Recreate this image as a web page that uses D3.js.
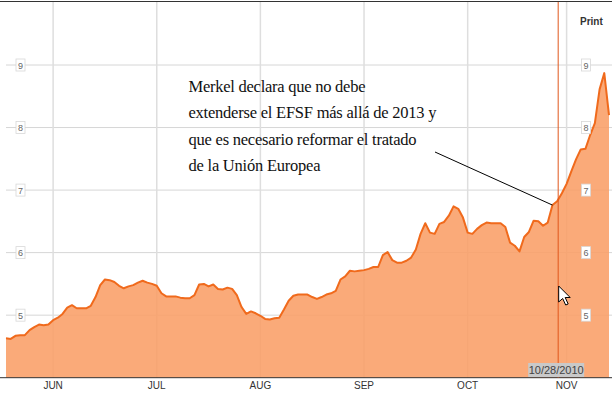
<!DOCTYPE html>
<html>
<head>
<meta charset="utf-8">
<script src="https://cdn.jsdelivr.net/npm/d3@7"></script>
<style>
  body { margin: 0; background: #fff; }
  svg { display: block; }
</style>
</head>
<body>
<div id="chart"></div>
<script>
/* Data: daily (trading days) yield, starting 18 May 2010 */
const startDate = "2010-05-18"
const yieldValues = [
  4.63, 4.62, 4.67, 4.68, 4.68, 4.76, 4.81, 4.85, 4.84, 4.85,
  4.92, 4.96, 5.02, 5.12, 5.16, 5.11, 5.11, 5.11, 5.15, 5.29,
  5.48, 5.57, 5.56, 5.53, 5.47, 5.43, 5.46, 5.48, 5.52, 5.55,
  5.52, 5.50, 5.47, 5.35, 5.30, 5.30, 5.30, 5.28, 5.27, 5.27,
  5.32, 5.49, 5.50, 5.46, 5.49, 5.42, 5.41, 5.44, 5.42, 5.32,
  5.13, 5.02, 5.06, 5.03, 4.99, 4.94, 4.93, 4.95, 4.96, 5.09,
  5.23, 5.31, 5.33, 5.33, 5.33, 5.29, 5.26, 5.29, 5.33, 5.35,
  5.39, 5.57, 5.62, 5.71, 5.70, 5.71, 5.72, 5.74, 5.77, 5.77,
  5.96, 6.01, 5.88, 5.84, 5.84, 5.87, 5.92, 6.05, 6.30, 6.47,
  6.32, 6.30, 6.46, 6.49, 6.59, 6.74, 6.70, 6.56, 6.32, 6.30,
  6.38, 6.44, 6.48, 6.47, 6.47, 6.47, 6.41, 6.16, 6.11, 6.02,
  6.25, 6.33, 6.51, 6.50, 6.43, 6.48, 6.76, 6.82, 6.95, 7.10,
  7.30, 7.49, 7.65, 7.66, 7.88, 8.07, 8.61, 8.87, 8.20
]
const monthTicks = ["2010-06-01", "2010-07-01", "2010-08-02", "2010-09-01", "2010-10-01", "2010-11-01"]
const monthLabels = ["JUN", "JUL", "AUG", "SEP", "OCT", "NOV"]
const yTicks = [5, 6, 7, 8, 9]
const hoverDate = "2010-10-28"
const hoverLabel = "10/28/2010"
const annotationDate = "2010-10-27"
const annotationLines = [
  "Merkel declara que no debe",
  "extenderse el EFSF más allá de 2013 y",
  "que es necesario reformar el tratado",
  "de la Unión Europea"
]

/* trading days (weekdays) from the start date */
const parseDate = d3.timeParse("%Y-%m-%d")
const fmt = d3.timeFormat("%Y-%m-%d")
const days = []
let day = parseDate(startDate)
while (days.length < yieldValues.length) {
  if (day.getDay() !== 0 && day.getDay() !== 6) days.push(fmt(day))
  day = d3.timeDay.offset(day, 1)
}
const data = yieldValues.map((v, i) => ({ i, date: days[i], value: v }))
const indexOf = s => days.indexOf(s)

/* Chart Dimensions */
const dimensions = { width: 612, height: 399, left: 6, right: 609, top: 65, bottom: 377.7 }

const svg = d3.select("#chart").append("svg")
    .attr("width", dimensions.width)
    .attr("height", dimensions.height)

const xScale = d3.scaleLinear()
    .domain([0, data.length - 1])
    .range([dimensions.left, dimensions.right])

const yScale = d3.scaleLinear()
    .domain([4, 9])
    .range([dimensions.bottom, dimensions.top])

/* grid */
svg.append("g").selectAll("line")
  .data(yTicks)
  .enter().append("line")
    .attr("x1", 6).attr("x2", 612)
    .attr("y1", d => yScale(d)).attr("y2", d => yScale(d))
    .attr("stroke", "#d6d6d6")
    .attr("stroke-width", 1)

svg.append("g").selectAll("line")
  .data(monthTicks)
  .enter().append("line")
    .attr("x1", d => xScale(indexOf(d))).attr("x2", d => xScale(indexOf(d)))
    .attr("y1", 2).attr("y2", dimensions.bottom)
    .attr("stroke", "#dedede")
    .attr("stroke-width", 1.5)

/* area + line */
const areaGenerator = d3.area()
    .x(d => xScale(d.i))
    .y0(dimensions.bottom)
    .y1(d => yScale(d.value))

const lineGenerator = d3.line()
    .x(d => xScale(d.i))
    .y(d => yScale(d.value))

svg.append("path")
    .datum(data)
    .attr("d", areaGenerator)
    .attr("fill", "rgb(249,158,102)")
    .attr("fill-opacity", 0.88)

svg.append("path")
    .datum(data)
    .attr("d", lineGenerator)
    .attr("fill", "none")
    .attr("stroke", "#f06a1c")
    .attr("stroke-width", 2)
    .attr("stroke-linejoin", "round")

/* frame lines */
svg.append("line")
    .attr("x1", 0).attr("x2", 612).attr("y1", 1.5).attr("y2", 1.5)
    .attr("stroke", "#333")
svg.append("line")
    .attr("x1", 0).attr("x2", 612)
    .attr("y1", dimensions.bottom).attr("y2", dimensions.bottom)
    .attr("stroke", "#333")

/* y labels, boxed, on both sides */
const drawYLabels = cx => {
  const g = svg.append("g").selectAll("g")
    .data(yTicks)
    .enter().append("g")
      .attr("transform", d => `translate(${cx},${yScale(d)})`)
  g.append("rect")
      .attr("x", -4.5).attr("y", -6)
      .attr("width", 9).attr("height", 12)
      .attr("fill", "#fff")
      .attr("stroke", "#d8d8d8")
      .attr("stroke-width", 0.8)
  g.append("text")
      .attr("text-anchor", "middle")
      .attr("y", 3.5)
      .attr("fill", "#666")
      .style("font-family", "Arial, 'Liberation Sans', sans-serif")
      .style("font-size", "9px")
      .text(d => d)
}
drawYLabels(20.5)
drawYLabels(586)

/* month labels */
svg.append("g").selectAll("text")
  .data(monthTicks)
  .enter().append("text")
    .attr("x", (d, i) => xScale(indexOf(d)))
    .attr("y", 389)
    .attr("text-anchor", "middle")
    .attr("fill", "#333")
    .style("font-family", "Arial, 'Liberation Sans', sans-serif")
    .style("font-size", "10px")
    .text((d, i) => monthLabels[i])

/* hover line, tooltip and cursor */
const hx = xScale(indexOf(hoverDate))
svg.append("line")
    .attr("x1", hx + 1).attr("x2", hx + 1)
    .attr("y1", 2).attr("y2", dimensions.bottom)
    .attr("stroke", "#e0561c")
    .attr("stroke-width", 1)

svg.append("rect")
    .attr("x", hx - 29).attr("y", 363)
    .attr("width", 56).attr("height", 14)
    .attr("fill", "#c9c9c9")
svg.append("text")
    .attr("x", hx - 1).attr("y", 374)
    .attr("text-anchor", "middle")
    .attr("fill", "#444")
    .style("font-family", "Arial, 'Liberation Sans', sans-serif")
    .style("font-size", "11px")
    .text(hoverLabel)

svg.append("path")
    .attr("transform", `translate(${hx + 1.5},286)`)
    .attr("d", "M0,0 L0,16 L4,12.5 L7,19 L9.5,18 L6.5,11.5 L11.5,11.5 Z")
    .attr("fill", "#fff")
    .attr("stroke", "#000")
    .attr("stroke-width", 1)

/* Print */
svg.append("text")
    .attr("x", 580).attr("y", 25)
    .attr("fill", "#333")
    .style("font-family", "Arial, 'Liberation Sans', sans-serif")
    .style("font-size", "10px")
    .style("font-weight", "bold")
    .text("Print")

/* annotation */
const annLengths = [177, 248, 228, 132]
svg.append("g").selectAll("text")
  .data(annotationLines)
  .enter().append("text")
    .attr("x", 188.5)
    .attr("y", (d, i) => 92 + i * 26.4)
    .attr("fill", "#111")
    .attr("textLength", (d, i) => annLengths[i])
    .attr("lengthAdjust", "spacing")
    .style("font-family", "'Liberation Serif', 'DejaVu Serif', serif")
    .style("font-size", "16.5px")
    .text(d => d)

const ai = indexOf(annotationDate)
svg.append("line")
    .attr("x1", 435).attr("y1", 152)
    .attr("x2", xScale(ai)).attr("y2", yScale(yieldValues[ai]))
    .attr("stroke", "#000")
    .attr("stroke-width", 1)
</script>
</body>
</html>
